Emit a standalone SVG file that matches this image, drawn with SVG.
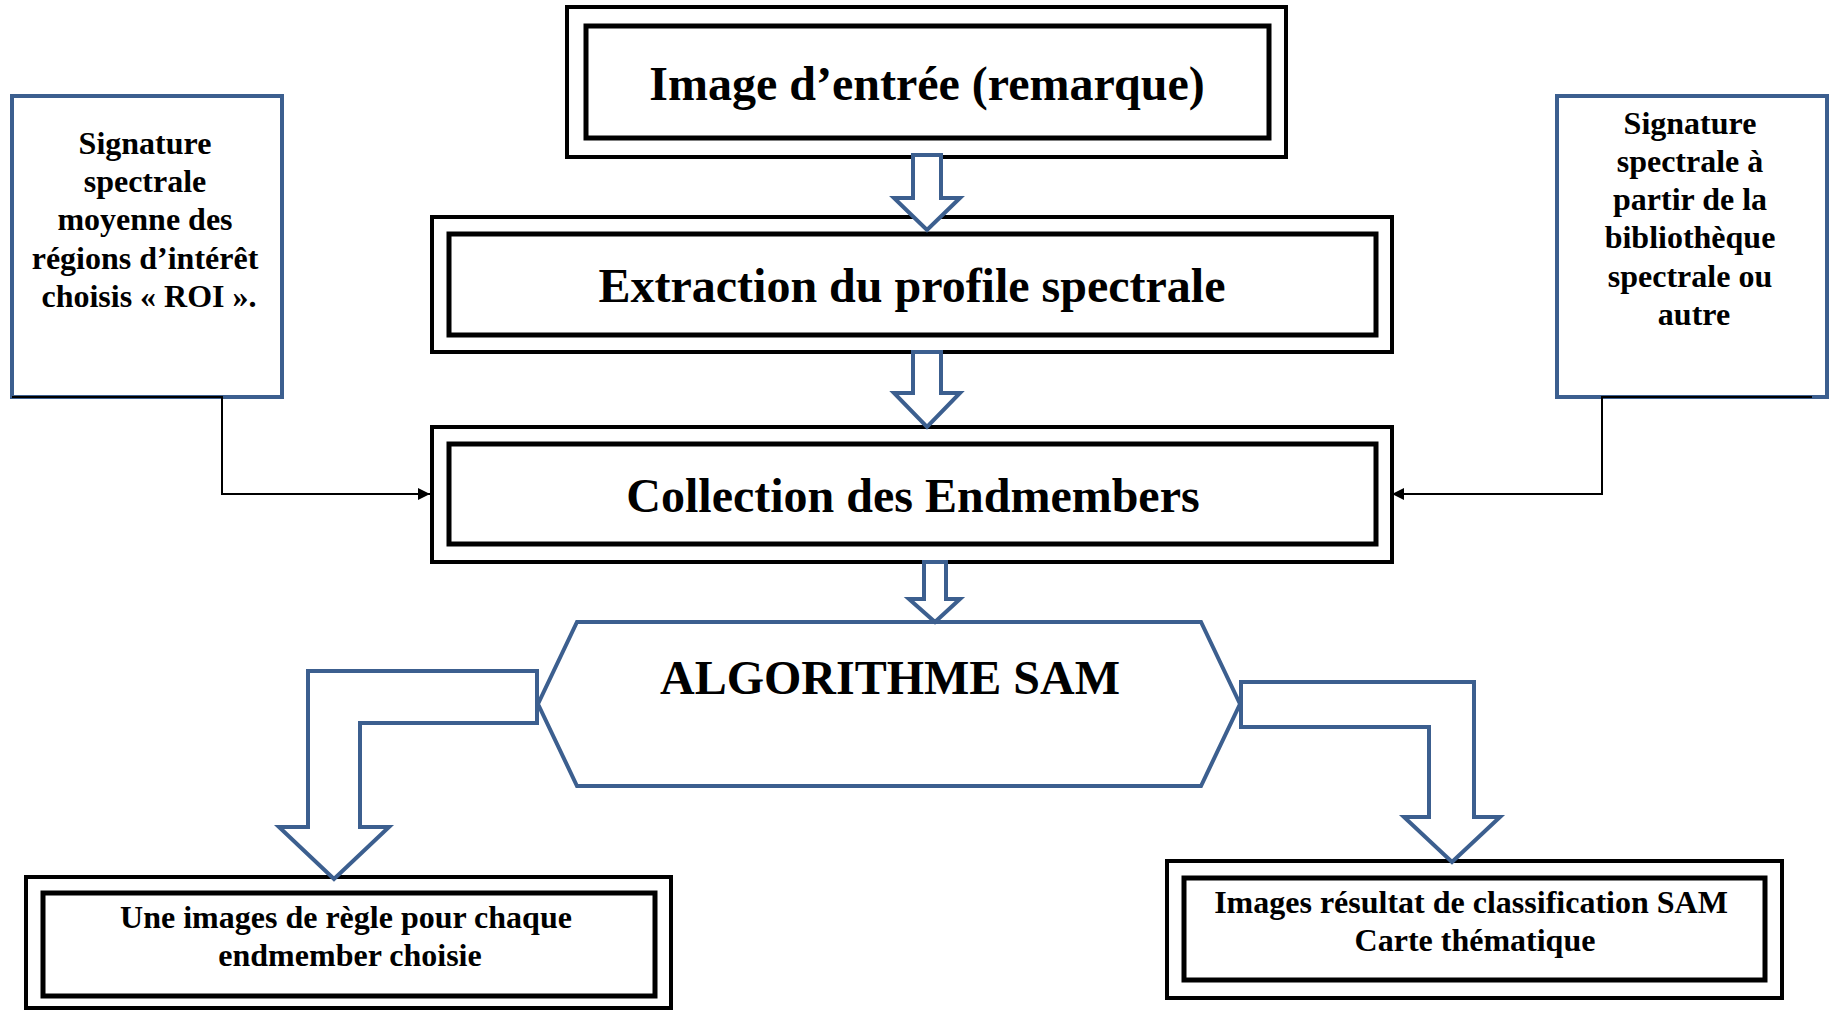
<svg xmlns="http://www.w3.org/2000/svg" width="1833" height="1011" viewBox="0 0 1833 1011">
<style>
  .outer { fill: #ffffff; stroke: #000000; stroke-width: 4; }
  .inner { fill: none; stroke: #000000; stroke-width: 5; }
  .blue { fill: #ffffff; stroke: #3C5F8F; stroke-width: 4; stroke-linejoin: miter; }
  .big { font-family: "Liberation Serif", "Times New Roman", serif; font-weight: bold; font-size: 48px; fill: #000; text-anchor: middle; }
  .mid { font-family: "Liberation Serif", "Times New Roman", serif; font-weight: bold; font-size: 32px; fill: #000; text-anchor: middle; }
  .conn { fill: none; stroke: #000000; stroke-width: 2; }
</style>
<defs>
  <marker id="arr" markerUnits="userSpaceOnUse" markerWidth="14" markerHeight="12" refX="12" refY="6" orient="auto">
    <path d="M0,0 L12,6 L0,12 Z" fill="#000"/>
  </marker>
</defs>
<rect width="1833" height="1011" fill="#ffffff"/>

<g id="node-image-entree">
  <rect class="outer" x="567" y="7" width="719" height="150"/>
  <rect class="inner" x="586" y="26" width="683" height="112"/>
  <text class="big" x="927" y="100">Image d’entrée (remarque)</text>
</g>

<g id="node-extraction">
  <rect class="outer" x="432" y="217" width="960" height="135"/>
  <rect class="inner" x="449" y="234" width="927" height="101"/>
  <text class="big" x="912" y="302">Extraction du profile spectrale</text>
</g>

<g id="node-collection">
  <rect class="outer" x="432" y="427" width="960" height="135"/>
  <rect class="inner" x="449" y="444" width="927" height="100"/>
  <text class="big" x="913" y="512">Collection des Endmembers</text>
</g>

<g id="node-roi">
  <rect class="blue" x="12" y="96" width="270" height="301"/>
  <text class="mid" x="149">
    <tspan x="149" y="154">Signature</tspan>
    <tspan x="149" y="192">spectrale</tspan>
    <tspan x="149" y="230">moyenne des</tspan>
    <tspan x="149" y="269">régions d’intérêt</tspan>
    <tspan x="149" y="307">choisis « ROI ».</tspan>
  </text>
</g>

<g id="node-bibliotheque">
  <rect class="blue" x="1557" y="96" width="270" height="301"/>
  <text class="mid" x="1694">
    <tspan x="1694" y="134">Signature</tspan>
    <tspan x="1694" y="172">spectrale à</tspan>
    <tspan x="1694" y="210">partir de la</tspan>
    <tspan x="1694" y="248">bibliothèque</tspan>
    <tspan x="1694" y="287">spectrale ou</tspan>
    <tspan x="1694" y="325">autre</tspan>
  </text>
</g>

<g id="node-sam">
  <polygon class="blue" points="577,622 1201,622 1240,704 1201,786 577,786 538,704"/>
  <text class="big" x="890" y="694">ALGORITHME SAM</text>
</g>

<g id="node-regle">
  <rect class="outer" x="26" y="877" width="645" height="131"/>
  <rect class="inner" x="43" y="893" width="612" height="103"/>
  <text class="mid" x="350">
    <tspan x="350" y="928">Une images de règle pour chaque</tspan>
    <tspan x="350" y="966">endmember choisie</tspan>
  </text>
</g>

<g id="node-resultat">
  <rect class="outer" x="1167" y="861" width="615" height="137"/>
  <rect class="inner" x="1184" y="878" width="581" height="102"/>
  <text class="mid" x="1475">
    <tspan x="1475" y="913">Images résultat de classification SAM</tspan>
    <tspan x="1475" y="951">Carte thématique</tspan>
  </text>
</g>

<g id="connectors">
  <path class="blue" d="M913,155 H941 V198 H960 L927,230 L894,198 H913 Z"/>
  <path class="blue" d="M913,352 H941 V393 H960 L927,427 L894,393 H913 Z"/>
  <path class="blue" d="M924,562 H946 V599 H960 L935,622 L909,599 H924 Z"/>
  <path class="blue" d="M537,671 H308 V827 H279 L334,879 L389,827 H360 V723 H537 Z"/>
  <path class="blue" d="M1241,682 H1474 V817 H1500 L1452,862 L1404,817 H1429 V727 H1241 Z"/>
  <path class="conn" d="M12,397 H222 V494 H430" marker-end="url(#arr)"/>
  <path class="conn" d="M1812,397 H1602 V494 H1392" marker-end="url(#arr)"/>
</g>
</svg>
